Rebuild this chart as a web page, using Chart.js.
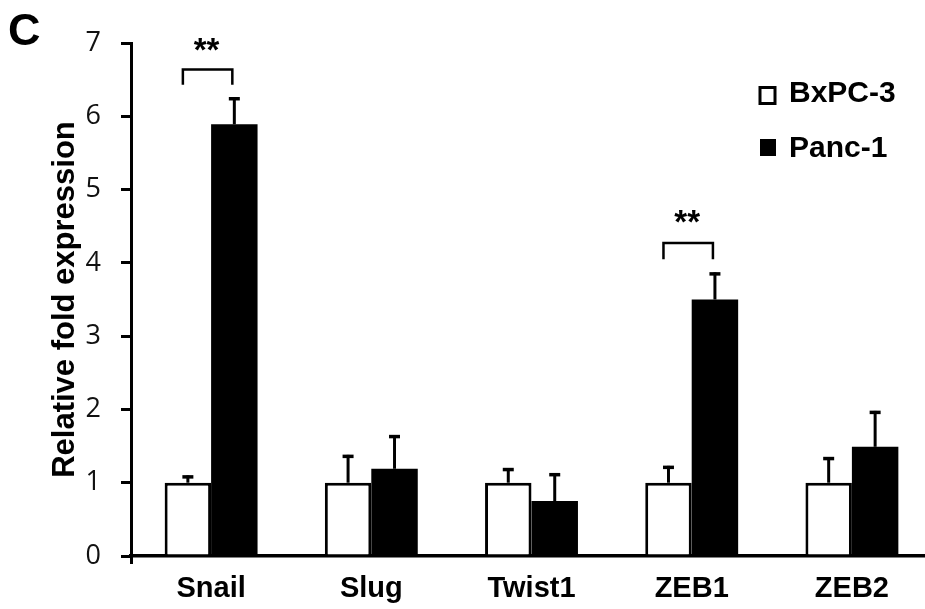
<!DOCTYPE html>
<html>
<head>
<meta charset="utf-8">
<script src="https://cdn.jsdelivr.net/npm/chart.js@4/dist/chart.umd.min.js"></script>
<style>
  html, body { margin: 0; padding: 0; background: #fff; overflow: hidden; }
  #wrap { position: relative; width: 934px; height: 609px; }
</style>
</head>
<body>
<div id="wrap"><canvas id="c"></canvas></div>
<script>
// ---- data ----
const categories = ['Snail', 'Slug', 'Twist1', 'ZEB1', 'ZEB2'];
const seriesNames = ['BxPC-3', 'Panc-1'];
const bxpcValues = [1.00, 1.00, 1.00, 1.00, 1.00];
const bxpcErrors = [0.10, 0.38, 0.20, 0.23, 0.35];
const pancValues = [5.89, 1.19, 0.75, 3.50, 1.49];
const pancErrors = [0.37, 0.46, 0.38, 0.37, 0.49];
const yTickValues = [0, 1, 2, 3, 4, 5, 6, 7];
const sigCategories = ['Snail', 'ZEB1'];
const sigLabels = ['**', '**'];
const sigBracketTop = [6.64, 4.27];
const sigBracketBottom = [6.43, 4.05];
const sigTextLevel = [7.01, 4.66];
const panelLetter = 'C';
const yTitle = 'Relative fold expression';

const errorSets = [bxpcErrors, pancErrors];

const errorBarPlugin = {
  id: 'errorBars',
  afterDatasetsDraw(chart) {
    const ctx = chart.ctx;
    const ys = chart.scales.y;
    ctx.save();
    ctx.strokeStyle = '#000';
    chart.data.datasets.forEach((ds, i) => {
      const meta = chart.getDatasetMeta(i);
      const errs = errorSets[i];
      meta.data.forEach((el, j) => {
        const v = ds.data[j];
        const top = ys.getPixelForValue(v + errs[j]);
        const x = el.x;
        ctx.lineWidth = 3;
        ctx.beginPath();
        ctx.moveTo(x, el.y);
        ctx.lineTo(x, top);
        ctx.stroke();
        ctx.lineWidth = 3.5;
        ctx.beginPath();
        ctx.moveTo(x - 5.5, top + 1.5);
        ctx.lineTo(x + 5.5, top + 1.5);
        ctx.stroke();
      });
    });
    ctx.restore();
  }
};

const annotationPlugin = {
  id: 'annotations',
  afterDraw(chart) {
    const ctx = chart.ctx;
    const ys = chart.scales.y;
    ctx.save();
    // significance brackets
    sigCategories.forEach((cat, k) => {
      const idx = categories.indexOf(cat);
      const a = chart.getDatasetMeta(0).data[idx];
      const b = chart.getDatasetMeta(1).data[idx];
      const x1 = a.x - 5, x2 = b.x - 2;
      const yt = ys.getPixelForValue(sigBracketTop[k]);
      const yb = ys.getPixelForValue(sigBracketBottom[k]);
      ctx.strokeStyle = '#000';
      ctx.lineWidth = 2.5;
      ctx.beginPath();
      ctx.moveTo(x1, yb);
      ctx.lineTo(x1, yt);
      ctx.lineTo(x2, yt);
      ctx.lineTo(x2, yb);
      ctx.stroke();
      ctx.fillStyle = '#000';
      ctx.font = 'bold 33px "Liberation Sans", Arial, sans-serif';
      ctx.textAlign = 'center';
      ctx.textBaseline = 'alphabetic';
      const ty = ys.getPixelForValue(sigTextLevel[k]);
      ctx.fillText(sigLabels[k], (x1 + x2) / 2 - 1, ty + 19);
    });
    // panel letter
    ctx.fillStyle = '#000';
    ctx.font = 'bold 45px "Liberation Sans", Arial, sans-serif';
    ctx.textAlign = 'left';
    ctx.textBaseline = 'alphabetic';
    ctx.fillText(panelLetter, 8, 45);
    // legend
    ctx.lineWidth = 3;
    ctx.strokeStyle = '#000';
    ctx.fillStyle = '#fff';
    ctx.fillRect(760, 87.5, 15, 16);
    ctx.strokeRect(760, 87.5, 15, 16);
    ctx.fillStyle = '#000';
    ctx.fillRect(760, 139, 16, 17);
    ctx.font = 'bold 30px "Liberation Sans", Arial, sans-serif';
    ctx.fillText(seriesNames[0], 789, 102);
    ctx.fillText(seriesNames[1], 789, 157);
    ctx.restore();
  }
};

new Chart(document.getElementById('c'), {
  type: 'bar',
  data: {
    labels: categories,
    datasets: [
      {
        label: seriesNames[0],
        data: bxpcValues,
        backgroundColor: '#fff',
        borderColor: '#000',
        borderWidth: 3,
        barPercentage: 1.0,
        categoryPercentage: 0.58
      },
      {
        label: seriesNames[1],
        data: pancValues,
        backgroundColor: '#000',
        borderColor: '#000',
        borderWidth: 0,
        barPercentage: 1.0,
        categoryPercentage: 0.58
      }
    ]
  },
  options: {
    responsive: true,
    maintainAspectRatio: false,
    animation: false,
    devicePixelRatio: 1,
    layout: { padding: { left: 47, top: 43, right: 2, bottom: 0 } },
    plugins: {
      legend: { display: false },
      tooltip: { enabled: false },
      title: { display: false }
    },
    scales: {
      x: {
        grid: {
          display: true,
          drawOnChartArea: false,
          drawTicks: true,
          tickLength: 8,
          lineWidth: 3,
          color: (c) => (c.index === 0 ? '#000' : 'rgba(0,0,0,0)')
        },
        border: { display: true, color: '#000', width: 3.5 },
        ticks: {
          color: '#000',
          padding: 8,
          font: { family: '"Liberation Sans", Arial, sans-serif', size: 29, weight: 'bold' }
        },
        afterFit: (s) => { s.height = 53; }
      },
      y: {
        min: 0,
        max: 7,
        afterBuildTicks: (s) => { s.ticks = yTickValues.map(v => ({ value: v })); },
        grid: {
          display: true,
          drawOnChartArea: false,
          drawTicks: true,
          tickLength: 10,
          lineWidth: 3,
          color: '#000'
        },
        border: { display: true, color: '#000', width: 3 },
        ticks: {
          color: '#111',
          padding: 20,
          font: { family: '"Open Sans", sans-serif', size: 27 }
        },
        title: {
          display: true,
          text: yTitle,
          color: '#000',
          padding: 0,
          font: { family: '"Liberation Sans", Arial, sans-serif', size: 31, weight: 'bold' }
        },
        afterFit: (s) => { s.width = 84; }
      }
    }
  },
  plugins: [errorBarPlugin, annotationPlugin]
});
</script>
</body>
</html>
